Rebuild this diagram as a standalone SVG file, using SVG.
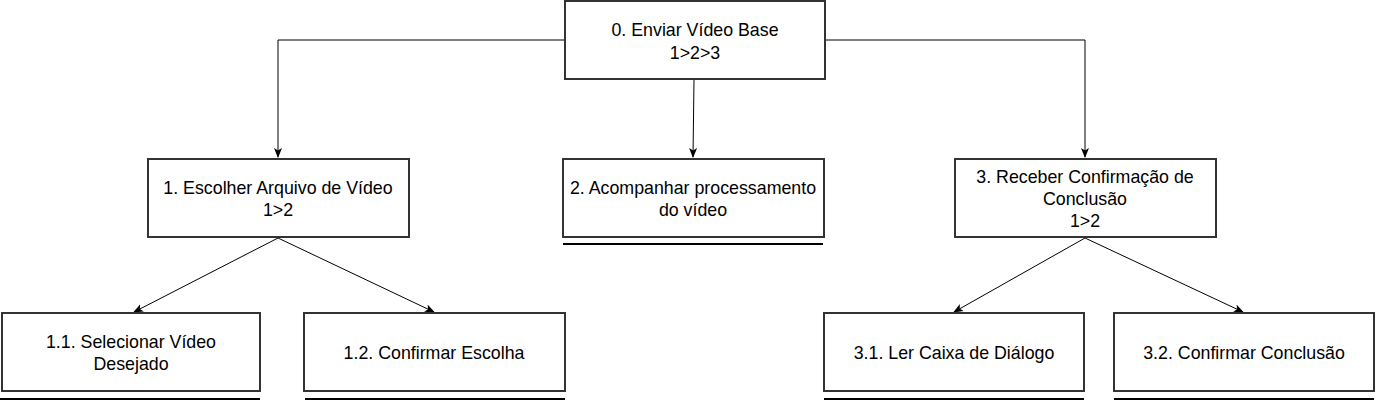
<svg xmlns="http://www.w3.org/2000/svg" width="1376" height="402" viewBox="0 0 1376 402">
<style>
.box{fill:#fff;stroke:#333;stroke-width:2}
.ul{stroke:#000;stroke-width:2}
.t{font-family:"Liberation Sans",Arial,sans-serif;font-size:17.8px;fill:#000;text-anchor:middle}
.c{fill:none;stroke:#000;stroke-width:1}
</style>
<defs>
<marker id="ah" viewBox="0 0 10 10" refX="9" refY="5" markerWidth="10" markerHeight="10" markerUnits="userSpaceOnUse" orient="auto">
<path d="M0,1 L10,5 L0,9 L2.5,5 Z" fill="#000"/>
</marker>
</defs>
<rect width="1376" height="402" fill="#fff"/>
<g id="connectors">
<path class="c" d="M565,40 H278 V157" marker-end="url(#ah)"/>
<path class="c" d="M825,40 H1085 V157" marker-end="url(#ah)"/>
<path class="c" d="M694,80 L693,157" marker-end="url(#ah)"/>
<path class="c" d="M278,238 L134,312" marker-end="url(#ah)"/>
<path class="c" d="M278,238 L434,312" marker-end="url(#ah)"/>
<path class="c" d="M1085,238 L954,312" marker-end="url(#ah)"/>
<path class="c" d="M1085,238 L1243,312" marker-end="url(#ah)"/>
</g>
<g id="n0">
<rect class="box" x="565" y="1" width="260" height="78"/>
<text class="t" x="695" y="36">0. Enviar Vídeo Base</text>
<text class="t" x="695" y="59">1&gt;2&gt;3</text>
</g>
<g id="n1">
<rect class="box" x="148" y="159" width="261" height="78"/>
<text class="t" x="278" y="194">1. Escolher Arquivo de Vídeo</text>
<text class="t" x="278" y="216">1&gt;2</text>
</g>
<g id="n2">
<rect class="box" x="563" y="159" width="261" height="78"/>
<text class="t" x="693" y="194">2. Acompanhar processamento</text>
<text class="t" x="693" y="216">do vídeo</text>
<line class="ul" x1="563" y1="244" x2="823" y2="244"/>
</g>
<g id="n3">
<rect class="box" x="955" y="159" width="261" height="78"/>
<text class="t" x="1085" y="183">3. Receber Confirmação de</text>
<text class="t" x="1085" y="205">Conclusão</text>
<text class="t" x="1085" y="227">1&gt;2</text>
</g>
<g id="n11">
<rect class="box" x="2" y="313" width="258" height="78"/>
<text class="t" x="131" y="348">1.1. Selecionar Vídeo</text>
<text class="t" x="131" y="370">Desejado</text>
<line class="ul" x1="0" y1="399" x2="260" y2="399"/>
</g>
<g id="n12">
<rect class="box" x="304" y="313" width="261" height="78"/>
<text class="t" x="434" y="359">1.2. Confirmar Escolha</text>
<line class="ul" x1="305" y1="399" x2="565" y2="399"/>
</g>
<g id="n31">
<rect class="box" x="824" y="313" width="260" height="78"/>
<text class="t" x="954" y="359">3.1. Ler Caixa de Diálogo</text>
<line class="ul" x1="824" y1="399" x2="1084" y2="399"/>
</g>
<g id="n32">
<rect class="box" x="1114" y="313" width="260" height="78"/>
<text class="t" x="1244" y="359">3.2. Confirmar Conclusão</text>
<line class="ul" x1="1114" y1="399" x2="1374" y2="399"/>
</g>
</svg>
